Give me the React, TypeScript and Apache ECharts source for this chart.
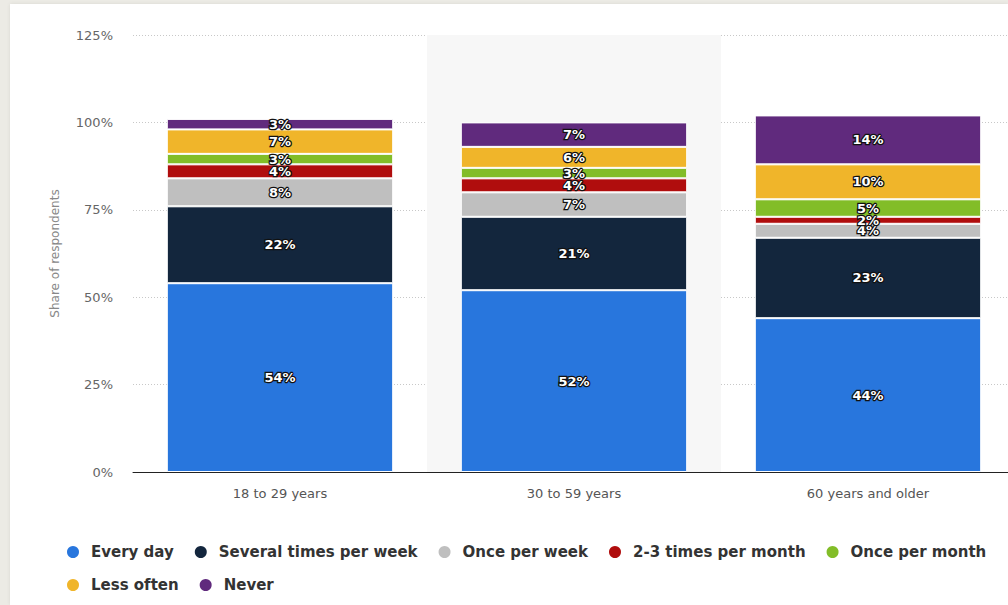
import React, { useEffect, useRef } from "react";
import * as echarts from "echarts";

const categories = ["18 to 29 years", "30 to 59 years", "60 years and older"];
const seriesNames = [
  "Every day",
  "Several times per week",
  "Once per week",
  "2-3 times per month",
  "Once per month",
  "Less often",
  "Never",
];
const everyDay = [54, 52, 44];
const severalTimes = [22, 21, 23];
const oncePerWeek = [8, 7, 4];
const twoThreeMonth = [4, 4, 2];
const oncePerMonth = [3, 3, 5];
const lessOften = [7, 6, 10];
const never = [3, 7, 14];
const yTicks = { min: 0, max: 125, interval: 25 };

const colors = ["#2876dd", "#13263d", "#bfbfbf", "#b00d0d", "#82bd28", "#f0b52a", "#602a7d"];
const allData = [everyDay, severalTimes, oncePerWeek, twoThreeMonth, oncePerMonth, lessOften, never];

export default function App() {
  const ref = useRef<HTMLDivElement>(null);
  useEffect(() => {
    if (!ref.current) return;
    const chart = echarts.init(ref.current, null, { renderer: "svg" });
    const font = "'DejaVu Sans', sans-serif";
    const legendText = { fontFamily: font, fontSize: 15, fontWeight: "bold", color: "#333" };
    chart.setOption({
      animation: false,
      color: colors,
      grid: { left: 123, top: 31, height: 437, width: 882, containLabel: false, outerBoundsMode: "none" },
      legend: [
        {
          data: seriesNames.slice(0, 5),
          left: 55,
          top: 540,
          icon: "circle",
          itemWidth: 26,
          itemHeight: 14,
          itemGap: 19,
          width: 990,
          padding: 0,
          textStyle: legendText,
        },
        {
          data: seriesNames.slice(5),
          left: 55,
          top: 573,
          icon: "circle",
          itemWidth: 26,
          itemHeight: 14,
          itemGap: 19,
          padding: 0,
          textStyle: legendText,
        },
      ],
      xAxis: {
        type: "category",
        data: categories,
        axisTick: { show: false },
        axisLine: { lineStyle: { color: "#222", width: 1 } },
        axisLabel: { margin: 15, color: "#555", fontSize: 13, fontFamily: font },
        splitArea: {
          show: true,
          areaStyle: { color: ["rgba(0,0,0,0)", "#f7f7f7", "rgba(0,0,0,0)"] },
        },
      },
      yAxis: {
        type: "value",
        min: yTicks.min,
        max: yTicks.max,
        interval: yTicks.interval,
        name: "Share of respondents",
        nameLocation: "middle",
        nameGap: 72,
        nameTextStyle: { color: "#888", fontSize: 12, fontFamily: font },
        axisLine: { show: false },
        axisTick: { show: false },
        axisLabel: { formatter: "{value}%", margin: 20, color: "#666", fontSize: 13, fontFamily: font },
        splitLine: { lineStyle: { color: "#c8c8c8", type: [1, 2], width: 1 } },
      },
      series: seriesNames.map((name, i) => ({
        name,
        type: "bar",
        stack: "total",
        barCategoryGap: "23%",
        data: allData[i],
        itemStyle: { color: colors[i], borderColor: "#fff", borderWidth: 1 },
        label: {
          show: true,
          position: "inside",
          formatter: "{c}%",
          color: "#fff",
          fontFamily: font,
          fontWeight: "bold",
          fontSize: 13,
          textBorderColor: "#111",
          textBorderWidth: 2.5,
        },
      })),
    });
    return () => chart.dispose();
  }, []);
  return (
    <div style={{ position: "fixed", left: 0, top: 0, width: 1008, height: 605, background: "#ecebe5", overflow: "hidden" }}>
      <div
        ref={ref}
        style={{ position: "absolute", left: 10, top: 4, width: 998, height: 601, background: "#fff", boxShadow: "0 0 4px rgba(0,0,0,0.08)" }}
      />
    </div>
  );
}
